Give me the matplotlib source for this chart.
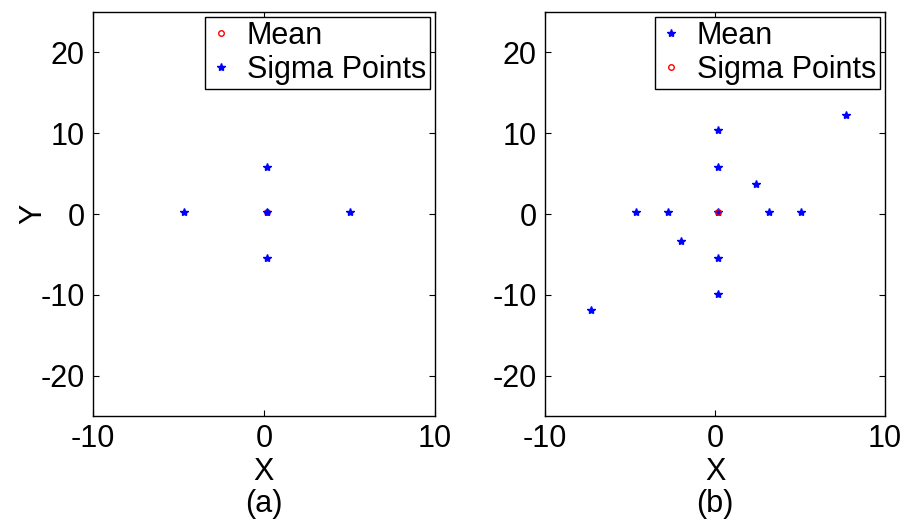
import matplotlib.pyplot as plt

plt.rcParams['font.family'] = ['Liberation Sans', 'DejaVu Sans']
plt.rcParams['axes.unicode_minus'] = False

# panel (a): mean and sigma points
mean_a_x = [0.2]
mean_a_y = [0.2]
sig_a_x = [0.2, -4.65, 5.05, 0.2, 0.2]
sig_a_y = [0.2, 0.2, 0.2, 5.85, -5.45]

# panel (b): sigma points (plotted first) and mean
sig_b_x = [0.2, -4.65, 5.05, -2.75, 3.15, 0.2, 0.2, 0.2, 0.2, 2.4, -2.0, 7.7, -7.3]
sig_b_y = [0.2, 0.2, 0.2, 0.2, 0.2, 5.85, -5.45, 10.35, -9.95, 3.7, -3.3, 12.3, -11.9]
mean_b_x = [0.2]
mean_b_y = [0.2]

xticks = [-10, 0, 10]
yticks = [-20, -10, 0, 10, 20]

fs = 22

fig = plt.figure(figsize=(9.1, 5.27), dpi=100)
W, H = 910.0, 527.0
ax1 = fig.add_axes([93 / W, 1 - 416 / H, 342 / W, 404 / H])
ax2 = fig.add_axes([545 / W, 1 - 416 / H, 340 / W, 404 / H])

star = dict(linestyle='none', marker='*', color='blue', markersize=6, markeredgewidth=1)
circ = dict(linestyle='none', marker='o', markerfacecolor='none', markeredgecolor='red',
            markersize=4, markeredgewidth=1)

ax1.plot(mean_a_x, mean_a_y, label='Mean', **circ)
ax1.plot(sig_a_x, sig_a_y, label='Sigma Points', **star)

ax2.plot(sig_b_x, sig_b_y, label='Mean', **star)
ax2.plot(mean_b_x, mean_b_y, label='Sigma Points', **circ)

for ax, tag in [(ax1, '(a)'), (ax2, '(b)')]:
    ax.set_xlim(-10, 10)
    ax.set_ylim(-25, 25)
    ax.set_xticks(xticks)
    ax.set_yticks(yticks)
    ax.tick_params(direction='in', length=4, width=0.8, labelsize=fs,
                   top=True, right=True, pad=6)
    for s in ax.spines.values():
        s.set_linewidth(1.0)
    ax.set_xlabel('X', fontsize=fs, labelpad=2)
    ax.text(0.5, -0.218, tag, transform=ax.transAxes, fontsize=fs,
            ha='center', va='center')
    leg = ax.legend(loc='upper right', fontsize=fs, handlelength=0.7,
                    handletextpad=0.5, borderpad=0.15, labelspacing=0.12,
                    borderaxespad=0.15, fancybox=False, framealpha=1,
                    edgecolor='black', markerscale=1)
    leg.get_frame().set_linewidth(1.0)

ax1.set_ylabel('Y', fontsize=fs, labelpad=-6)

fig.savefig('out.png', dpi=100)
